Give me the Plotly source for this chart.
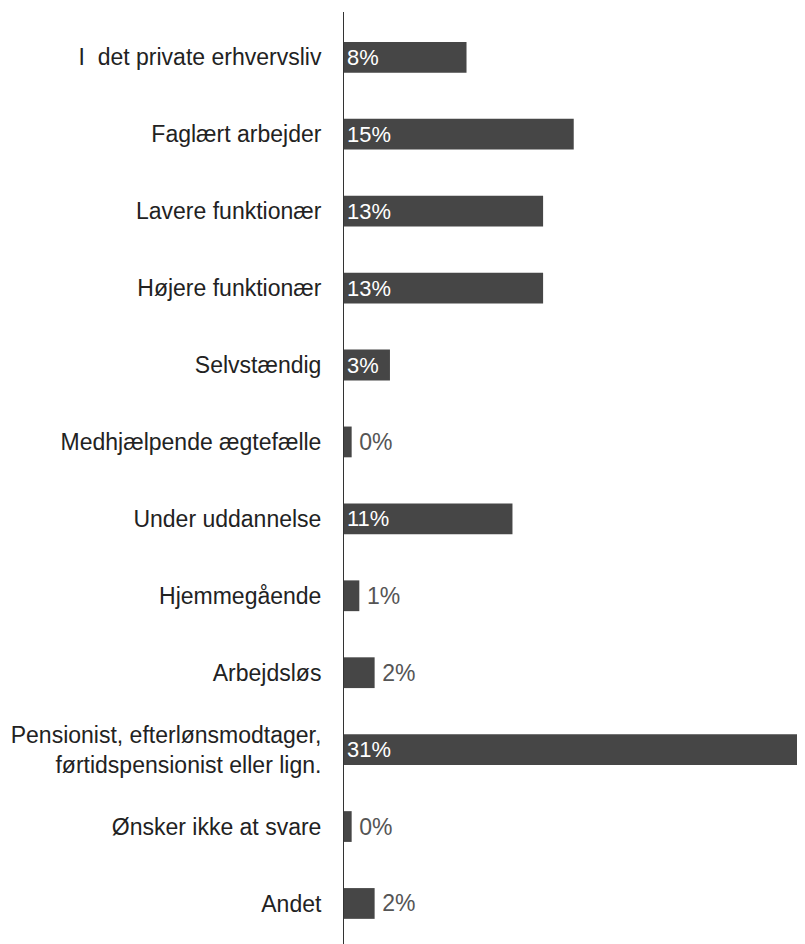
import plotly.graph_objects as go

categories = [
    "I  det private erhvervsliv",
    "Faglært arbejder",
    "Lavere funktionær",
    "Højere funktionær",
    "Selvstændig",
    "Medhjælpende ægtefælle",
    "Under uddannelse",
    "Hjemmegående",
    "Arbejdsløs",
    "Pensionist, efterlønsmodtager,<br>førtidspensionist eller lign.",
    "Ønsker ikke at svare",
    "Andet",
]
values = [8.0, 15.0, 13.0, 13.0, 3.0, 0.5, 11.0, 1.0, 2.0, 31.0, 0.5, 2.0]
value_labels = ["8%", "15%", "13%", "13%", "3%", "0%", "11%", "1%", "2%", "31%", "0%", "2%"]
positions = ["inside", "inside", "inside", "inside", "inside", "outside",
             "inside", "outside", "outside", "inside", "outside", "outside"]

FONT = "Liberation Sans, Arial, Helvetica, sans-serif"
templates = ["%{text}" if p == "inside" else "\u2009%{text}" for p in positions]

fig = go.Figure(
    go.Bar(
        y=categories,
        x=values,
        orientation="h",
        width=0.4,
        marker=dict(color="#464646", line=dict(width=0)),
        text=value_labels,
        texttemplate=templates,
        textposition=positions,
        insidetextanchor="start",
        insidetextfont=dict(color="#ffffff", size=23, family=FONT),
        outsidetextfont=dict(color="#555555", size=23, family=FONT),
        cliponaxis=True,
        hoverinfo="skip",
    )
)

fig.update_layout(
    width=797,
    height=936,
    margin=dict(l=336, r=0, t=4, b=0, pad=0),
    paper_bgcolor="white",
    plot_bgcolor="white",
    showlegend=False,
    font=dict(family=FONT, size=23, color="#222222"),
    uniformtext=dict(mode=False),
)
fig.update_xaxes(
    range=[0, 30.1],
    visible=False,
    showgrid=False,
    zeroline=False,
)
fig.update_yaxes(
    type="category",
    range=[11.527, -0.589],
    showline=True,
    linecolor="#333333",
    linewidth=1,
    showgrid=False,
    zeroline=False,
    ticks="outside",
    ticklen=17,
    tickcolor="rgba(0,0,0,0)",
    tickfont=dict(size=23, color="#222222", family=FONT),
)

fig.write_html("out.html")
